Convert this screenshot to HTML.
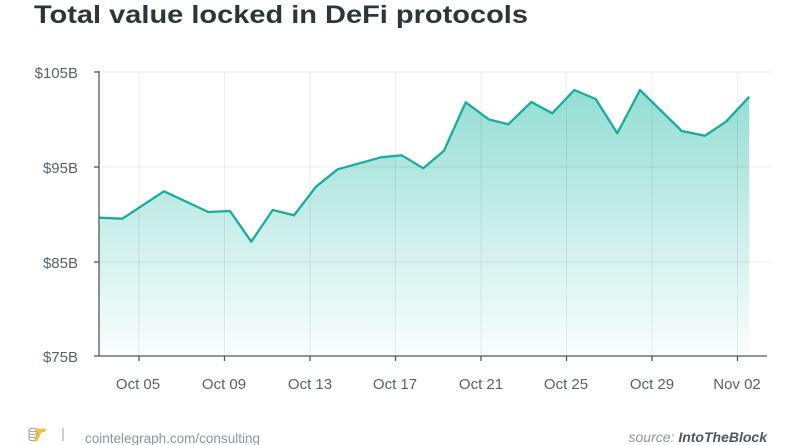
<!DOCTYPE html>
<html>
<head>
<meta charset="utf-8">
<style>
html,body{margin:0;padding:0;background:#fff;}
svg{display:block;}
text{font-family:"Liberation Sans",sans-serif;}
</style>
</head>
<body>
<svg width="800" height="445" viewBox="0 0 800 445" xmlns="http://www.w3.org/2000/svg">
<defs>
<linearGradient id="g" gradientUnits="userSpaceOnUse" x1="0" y1="90" x2="0" y2="356">
<stop offset="0" stop-color="#93ddd3"/>
<stop offset="0.6" stop-color="#d3f1ed"/>
<stop offset="1" stop-color="#fafefd"/>
</linearGradient>
</defs>
<rect width="800" height="445" fill="#fff"/>
<text x="34" y="23" font-size="25" font-weight="bold" fill="#2b363c" textLength="494" lengthAdjust="spacingAndGlyphs">Total value locked in DeFi protocols</text>

<!-- fill -->
<polygon fill="url(#g)" points="99,356 99,217.7 122.3,218.7 164,191.3 208.3,212 230,211 251.3,241.7 272.7,210 294,215.3 316,186.7 337.7,169.3 381,157.3 401.7,155.3 423.3,168.3 444,150.7 465.7,102.3 489,119.5 508.3,124.3 531.3,102 552.3,113.3 574.3,90 595.7,99 617.3,133.3 640,90 681.7,131 705,135.7 726,121.7 749.3,96.7 749.3,356"/>

<!-- grid -->
<g stroke="rgba(0,0,0,0.07)" stroke-width="1">
<line x1="99" y1="72" x2="771" y2="72"/>
<line x1="99" y1="167" x2="771" y2="167"/>
<line x1="99" y1="262" x2="771" y2="262"/>
<line x1="139" y1="72" x2="139" y2="356"/>
<line x1="224.5" y1="72" x2="224.5" y2="356"/>
<line x1="310" y1="72" x2="310" y2="356"/>
<line x1="395.5" y1="72" x2="395.5" y2="356"/>
<line x1="481" y1="72" x2="481" y2="356"/>
<line x1="566.5" y1="72" x2="566.5" y2="356"/>
<line x1="652" y1="72" x2="652" y2="356"/>
<line x1="737.5" y1="72" x2="737.5" y2="356"/>
</g>

<!-- line -->
<polyline fill="none" stroke="#17ada0" stroke-width="2.3" stroke-linejoin="round" points="99,217.7 122.3,218.7 164,191.3 208.3,212 230,211 251.3,241.7 272.7,210 294,215.3 316,186.7 337.7,169.3 381,157.3 401.7,155.3 423.3,168.3 444,150.7 465.7,102.3 489,119.5 508.3,124.3 531.3,102 552.3,113.3 574.3,90 595.7,99 617.3,133.3 640,90 681.7,131 705,135.7 726,121.7 749.3,96.7"/>

<!-- axes -->
<g stroke="#4b5a61" stroke-width="1.3">
<line x1="99" y1="71" x2="99" y2="356"/>
<line x1="94" y1="356" x2="767" y2="356"/>
<line x1="94" y1="72" x2="99" y2="72"/>
<line x1="94" y1="167" x2="99" y2="167"/>
<line x1="94" y1="262" x2="99" y2="262"/>
<line x1="139" y1="356" x2="139" y2="361"/>
<line x1="224.5" y1="356" x2="224.5" y2="361"/>
<line x1="310" y1="356" x2="310" y2="361"/>
<line x1="395.5" y1="356" x2="395.5" y2="361"/>
<line x1="481" y1="356" x2="481" y2="361"/>
<line x1="566.5" y1="356" x2="566.5" y2="361"/>
<line x1="652" y1="356" x2="652" y2="361"/>
<line x1="737.5" y1="356" x2="737.5" y2="361"/>
</g>

<!-- y labels -->
<g font-size="15" fill="#56646b" text-anchor="end">
<text x="78" y="78">$105B</text>
<text x="78" y="173">$95B</text>
<text x="78" y="268">$85B</text>
<text x="78" y="362">$75B</text>
</g>

<!-- x labels -->
<g font-size="15" fill="#56646b" text-anchor="middle">
<text x="138" y="389">Oct 05</text>
<text x="224" y="389">Oct 09</text>
<text x="310" y="389">Oct 13</text>
<text x="395" y="389">Oct 17</text>
<text x="481" y="389">Oct 21</text>
<text x="566" y="389">Oct 25</text>
<text x="652" y="389">Oct 29</text>
<text x="737" y="389">Nov 02</text>
</g>

<!-- footer -->
<g>
<ellipse cx="33" cy="430" rx="4" ry="1.6" fill="none" stroke="#9aa5aa" stroke-width="1"/>
<path d="M29,430 v9 a4,1.6 0 0 0 8,0 v-9" fill="none" stroke="#9aa5aa" stroke-width="1"/>
<path d="M29,433 a4,1.6 0 0 0 8,0 M29,436 a4,1.6 0 0 0 8,0" fill="none" stroke="#9aa5aa" stroke-width="1"/>
<path d="M36,429 h10 l-2,3 h-3 l-4,9 h-3 l4,-9 h-3 z" fill="#f4c542" stroke="#e0a820" stroke-width="0.6"/>
<line x1="63" y1="428" x2="63" y2="441" stroke="#9aa5aa" stroke-width="1"/>
<text x="85" y="443" font-size="14" fill="#8a979e" textLength="175" lengthAdjust="spacingAndGlyphs">cointelegraph.com/consulting</text>
<text x="767" y="442" font-size="14" text-anchor="end" font-style="italic"><tspan fill="#8a979e">source: </tspan><tspan fill="#4b5a61" font-weight="bold">IntoTheBlock</tspan></text>
</g>
</svg>
</body>
</html>
